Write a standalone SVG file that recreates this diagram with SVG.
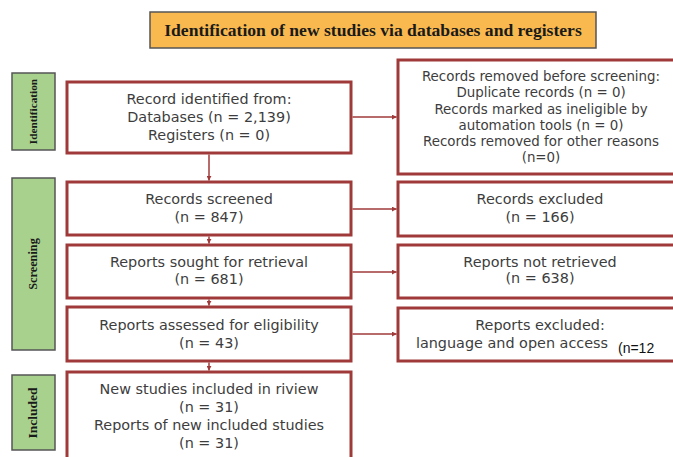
<svg xmlns="http://www.w3.org/2000/svg" width="673" height="457" viewBox="0 0 673 457">
<defs>
<marker id="ah" viewBox="0 0 8 8" refX="7.5" refY="4" markerWidth="5" markerHeight="5" orient="auto" markerUnits="userSpaceOnUse">
<path d="M0,0 L8,4 L0,8 z" fill="#A03A3A"/>
</marker>
<style>
.box{fill:#fff;stroke:#A03A3A;stroke-width:3}
.lab{fill:#A9D18E;stroke:#555;stroke-width:1.5}
.t{font-family:"DejaVu Sans","Open Sans",sans-serif;font-size:14.4px;fill:#3d3d3d;text-anchor:middle}
.r{font-size:13.4px}
.s{font-family:"Liberation Serif","Times New Roman",serif;font-weight:bold;fill:#1a1a1a;text-anchor:middle}
.c{stroke:#A03A3A;stroke-width:1.5;fill:none;marker-end:url(#ah)}
</style>
</defs>
<rect width="673" height="457" fill="#fff"/>
<g id="title">
<rect x="150" y="12" width="446" height="36" fill="#F9B94F" stroke="#555" stroke-width="1.5"/>
<text class="s" x="373" y="35.5" font-size="17.6">Identification of new studies via databases and registers</text>
</g>
<g id="lab-identification">
<rect class="lab" x="12" y="73" width="43" height="77"/>
<text class="s" font-size="11.3" transform="translate(37,111.5) rotate(-90)">Identification</text>
</g>
<g id="lab-screening">
<rect class="lab" x="12" y="178" width="43" height="172"/>
<text class="s" font-size="12.3" transform="translate(37,264) rotate(-90)">Screening</text>
</g>
<g id="lab-included">
<rect class="lab" x="12" y="375" width="43" height="75"/>
<text class="s" font-size="13.5" transform="translate(37,413) rotate(-90)">Included</text>
</g>
<g id="identified">
<rect class="box" x="67" y="82" width="284" height="71"/>
<text class="t" x="209" y="104">Record identified from:</text>
<text class="t" x="209" y="122">Databases (n = 2,139)</text>
<text class="t" x="209" y="140">Registers (n = 0)</text>
</g>
<g id="removed">
<rect class="box" x="398" y="60" width="280" height="114"/>
<text class="t r" x="541" y="80.5">Records removed before screening:</text>
<text class="t r" x="541" y="97">Duplicate records (n = 0)</text>
<text class="t r" x="541" y="113.5">Records marked as ineligible by</text>
<text class="t r" x="541" y="130">automation tools (n = 0)</text>
<text class="t r" x="541" y="145.5">Records removed for other reasons</text>
<text class="t r" x="541" y="161.5">(n=0)</text>
</g>
<g id="screened">
<rect class="box" x="67" y="182" width="284" height="53"/>
<text class="t" x="209" y="204">Records screened</text>
<text class="t" x="209" y="222">(n = 847)</text>
</g>
<g id="excluded">
<rect class="box" x="398" y="182" width="280" height="54"/>
<text class="t" x="540" y="204">Records excluded</text>
<text class="t" x="540" y="222">(n = 166)</text>
</g>
<g id="sought">
<rect class="box" x="67" y="245" width="284" height="53"/>
<text class="t" x="209" y="267">Reports sought for retrieval</text>
<text class="t" x="209" y="284">(n = 681)</text>
</g>
<g id="notretrieved">
<rect class="box" x="398" y="245" width="280" height="53"/>
<text class="t" x="540" y="267">Reports not retrieved</text>
<text class="t" x="540" y="283">(n = 638)</text>
</g>
<g id="assessed">
<rect class="box" x="67" y="307" width="284" height="54"/>
<text class="t" x="209" y="330">Reports assessed for eligibility</text>
<text class="t" x="209" y="348">(n = 43)</text>
</g>
<g id="reportsexcluded">
<rect class="box" x="398" y="308" width="280" height="53"/>
<text class="t" x="540" y="330">Reports excluded:</text>
<text class="t" x="512" y="348">language and open access</text>
<text x="618" y="353" font-family="Liberation Sans, Arial, sans-serif" font-size="14" fill="#111">(n=12</text>
</g>
<g id="included">
<rect class="box" x="67" y="372" width="284" height="90"/>
<text class="t" x="209" y="394">New studies included in riview</text>
<text class="t" x="209" y="412">(n = 31)</text>
<text class="t" x="209" y="430">Reports of new included studies</text>
<text class="t" x="209" y="448">(n = 31)</text>
</g>
<g id="connectors">
<line class="c" x1="209" y1="154.5" x2="209" y2="180.5"/>
<line class="c" x1="209" y1="236.5" x2="209" y2="243.5"/>
<line class="c" x1="209" y1="299.5" x2="209" y2="305.5"/>
<line class="c" x1="209" y1="362.5" x2="209" y2="370.5"/>
<line class="c" x1="352.5" y1="117" x2="396.5" y2="117"/>
<line class="c" x1="352.5" y1="209" x2="396.5" y2="209"/>
<line class="c" x1="352.5" y1="272" x2="396.5" y2="272"/>
<line class="c" x1="352.5" y1="334" x2="396.5" y2="334"/>
</g>
</svg>
